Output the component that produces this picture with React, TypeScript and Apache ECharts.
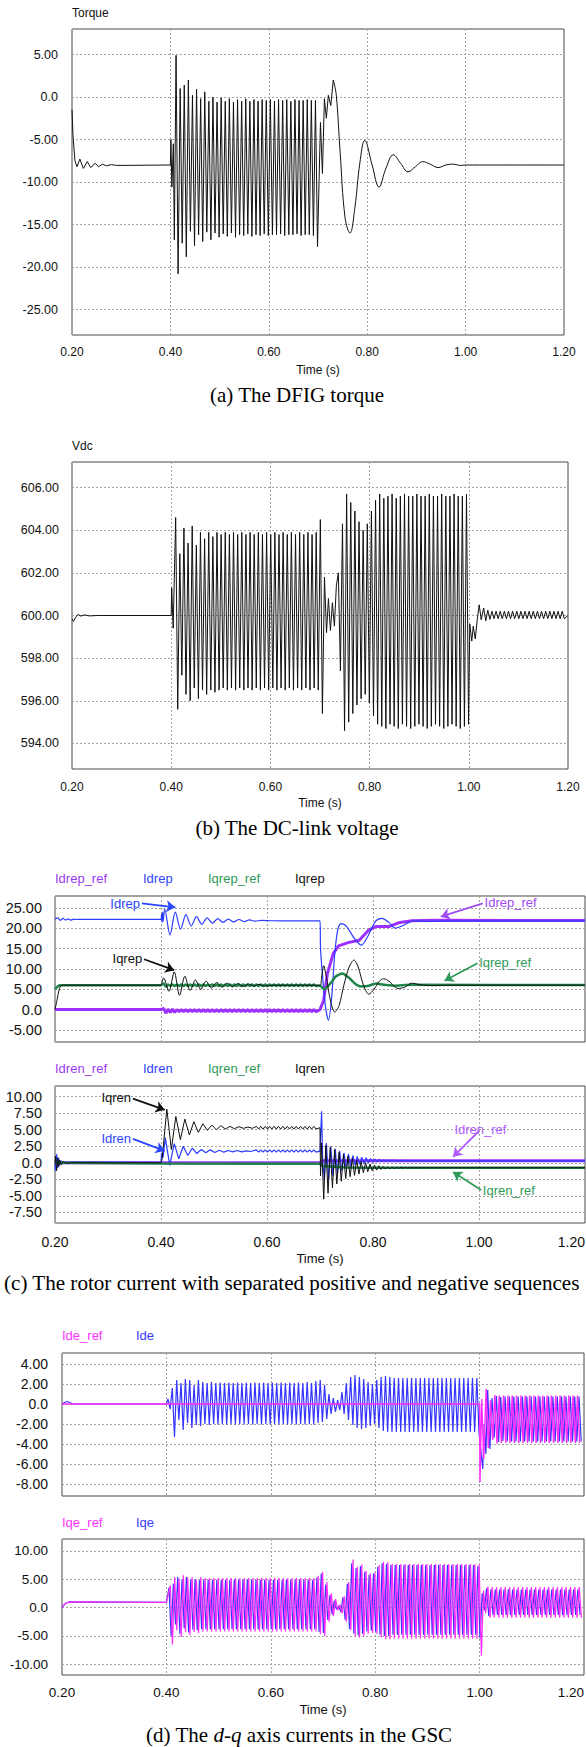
import React, { useEffect, useRef } from 'react';
import * as echarts from 'echarts';

type Pt = [number, number];
const rep = (v: number, n: number): number[] => Array.from({ length: n }, () => v);
const pairs = (t: number[], v: number[]): Pt[] => t.map((x, i) => [x, v[i]] as Pt);
const zig = (t0: number, period: number, highs: number[], lows: number[]): Pt[] => {
  const out: Pt[] = [];
  const n = Math.min(highs.length, lows.length);
  for (let i = 0; i < n; i++) {
    out.push([t0 + i * period, highs[i]]);
    out.push([t0 + i * period + period / 2, lows[i]]);
  }
  return out;
};

// ---------- common ----------
const P = 1 / 120; // oscillation period (s)
const X_MIN = 0.2;
const X_MAX = 1.2;
const X_STEP = 0.2;

// ---------- (a) torque ----------
const torqueTicks = [-25, -20, -15, -10, -5, 0, 5];
const torquePreT = [0.2, 0.202, 0.206, 0.21, 0.216, 0.223, 0.231, 0.238, 0.247, 0.254, 0.262, 0.27, 0.28, 0.29, 0.4, 0.401, 0.403, 0.406, 0.408];
const torquePreV = [-1.5, -4.5, -7.5, -8.2, -7.3, -8.4, -7.6, -8.3, -7.8, -8.2, -7.9, -8.1, -7.95, -8.05, -8.0, -5.0, -10.6, -5.5, -16.8];
const torqueOscT0 = 0.4115;
const torqueHighs = [4.9, 1.0, 1.4, 2.0, 0.2, 0.9, -0.2, 0.6, -0.5, 0.0, -0.6, -0.1, -0.5, -0.2, -0.6, -0.3, -0.5, -0.2, -0.5, -0.3, -0.5, -0.3, -0.4, -0.3, -0.5, -0.3, -0.4, -0.3, -0.5, -0.3, -0.4, -0.4, -0.3, -0.4, -0.4];
const torqueLows = [-20.8, -17.2, -18.8, -15.8, -17.5, -16.2, -17.0, -15.9, -16.8, -16.0, -16.5, -16.1, -16.4, -16.0, -16.5, -16.2, -16.3, -16.1, -16.4, -16.2, -16.3, -16.1, -16.3, -16.2, -16.2, -16.1, -16.3, -16.2, -16.2, -16.1, -16.3, -16.2, -16.2, -16.3, -17.6];
const torqueKickT = [0.705, 0.709, 0.713, 0.717, 0.721, 0.726, 0.731];
const torqueKickV = [-3.0, -9.0, -0.2, -2.5, 0.2, -1.0, 2.0];
const torqueTailT = [0.731, 0.737, 0.745, 0.755, 0.765, 0.775, 0.785, 0.795, 0.81, 0.824, 0.838, 0.853, 0.868, 0.883, 0.898, 0.913, 0.928, 0.944, 0.96, 0.974, 0.99, 1.0, 1.1, 1.2];
const torqueTailV = [2.0, 0.3, -6.5, -14.2, -16.0, -13.0, -7.8, -5.1, -8.0, -10.6, -8.4, -6.8, -7.8, -8.8, -8.2, -7.6, -7.9, -8.3, -8.0, -7.9, -8.05, -8.0, -8.0, -8.0];

// ---------- (b) Vdc ----------
const vdcTicks = [594, 596, 598, 600, 602, 604, 606];
const vdcPreT = [0.2, 0.203, 0.207, 0.212, 0.218, 0.225, 0.235, 0.25, 0.4, 0.401, 0.404];
const vdcPreV = [599.85, 599.72, 599.9, 600.05, 599.97, 600.03, 599.98, 600.0, 600.0, 601.3, 599.4];
const vdcOsc1T0 = 0.409;
const vdcOsc1Highs = [604.6, 602.9, 604.1, 603.4, 604.2, 603.3, 603.9, 603.6, 603.9, 603.7,
  603.9, 603.8, 603.9, 603.8, 603.9, 603.8, 603.9, 603.8, 603.9, 603.8, 603.9, 603.8,
  603.9, 603.8, 603.9, 603.8, 603.9, 603.8, 603.9, 603.8, 603.9, 603.8, 603.9, 603.8,
  603.9, 604.5, 601.8];
const vdcOsc1Lows = [595.6, 597.2, 596.3, 596.0, 596.6, 596.1, 596.5, 596.3, 596.5, 596.4,
  596.5, 596.6, 596.5, 596.6, 596.5, 596.6, 596.5, 596.6, 596.5, 596.6, 596.5, 596.6,
  596.5, 596.6, 596.5, 596.6, 596.5, 596.6, 596.5, 596.6, 596.5, 596.6, 596.5, 596.6,
  596.5, 595.4, 599.2];
const vdcMidT = [0.717, 0.721, 0.725, 0.729, 0.733];
const vdcMidV = [600.8, 599.3, 600.6, 599.5, 601.4];
const vdcOsc2T0 = 0.737;
const vdcOsc2Highs = [602.0, 604.3, 605.7, 605.3, 604.9, 604.4, 604.0, 604.3, 604.9, 605.4, 605.7, 605.5, 605.6, 605.7, 605.5, 605.6, 605.7, 605.6, 605.6, 605.7, 605.6, 605.6, 605.7, 605.6, 605.6, 605.7, 605.6, 605.6, 605.7, 605.6, 605.6, 605.7];
const vdcOsc2Lows = [597.4, 594.6, 595.0, 595.4, 595.8, 596.1, 596.3, 595.9, 595.3, 594.9, 594.8, 594.7, 594.9, 594.8, 594.7, 594.9, 594.8, 594.7, 594.8, 594.9, 594.8, 594.7, 594.8, 594.9, 594.8, 594.7, 594.8, 594.9, 594.8, 594.7, 594.8, 594.9];
const vdcPostT = [1.002, 1.006, 1.009, 1.013, 1.017, 1.021, 1.025];
const vdcPostV = [599.6, 598.8, 599.5, 598.9, 599.8, 600.5, 599.8];
const vdcRippleT0 = 1.03;
const vdcRippleHighs = [600.35, 600.25, ...rep(600.2, 18)];
const vdcRippleLows = [599.75, 599.82, ...rep(599.85, 18)];
const vdcEndT = [1.2];
const vdcEndV = [600.0];

// ---------- (c) rotor current, positive sequence ----------
const rpTicks = [-5, 0, 5, 10, 15, 20, 25];
const idrepPreT = [0.2, 0.205, 0.21, 0.215, 0.22, 0.225, 0.23, 0.235, 0.24, 0.25, 0.4, 0.401, 0.402, 0.403, 0.404];
const idrepPreV = [22.3, 22.6, 22.0, 22.5, 22.1, 22.35, 22.05, 22.3, 22.2, 22.25, 22.25, 23.5, 21.5, 24.0, 21.8];
const idrepOscT0 = 0.407;
const idrepOscPeriod = 0.02;
const idrepHighs = [24.8, 24.0, 23.4, 22.9, 22.6, 22.4, 22.3, 22.2, 22.1];
const idrepLows = [18.4, 19.8, 20.6, 21.0, 21.3, 21.5, 21.6, 21.7, 21.8];
const idrepPostT = [0.59, 0.61, 0.64, 0.67, 0.7, 0.701, 0.705, 0.71, 0.716, 0.722, 0.728, 0.734, 0.74, 0.75, 0.765, 0.778, 0.79, 0.805, 0.817, 0.83, 0.842, 0.858, 0.877, 0.9, 0.95, 1.2];
const idrepPostV = [22.0, 21.9, 21.85, 21.85, 21.85, 15, 8, 1, -2.6, 3, 14, 20, 21.2, 20.5, 17.5, 15.9, 18, 21.8, 22.5, 21.5, 20.1, 20.8, 21.9, 21.75, 21.85, 21.85];

const idrepRefPreT = [0.2, 0.4];
const idrepRefPreV = [0.0, 0.0];
const idrepRefRipT0 = 0.405;
const idrepRefRipHighs = [0.3, 0.1, 0.1, ...rep(0.0, 32)];
const idrepRefRipLows = [-0.9, -0.7, -0.7, ...rep(-0.5, 32)];
const idrepRefPostT = [0.7, 0.707, 0.714, 0.725, 0.735, 0.753, 0.774, 0.792, 0.806, 0.831, 0.848, 0.873, 0.92, 1.2];
const idrepRefPostV = [0.0, 2.3, 8.9, 13.8, 15.7, 16.5, 17.1, 19.6, 20.5, 20.5, 21.4, 21.9, 22.0, 21.95];

const iqrepRefPreT = [0.2, 0.205, 0.21, 0.4];
const iqrepRefPreV = [5.0, 5.7, 6.0, 6.0];
const iqrepRefRipT0 = 0.405;
const iqrepRefRipHighs = [6.4, ...rep(6.2, 34)];
const iqrepRefRipLows = [5.6, ...rep(5.8, 34)];
const iqrepRefPostT = [0.7, 0.708, 0.72, 0.73, 0.742, 0.755, 0.768, 0.778, 0.79, 0.806, 0.82, 0.84, 0.87, 1.2];
const iqrepRefPostV = [5.9, 5.0, 6.5, 8.2, 8.9, 7.8, 6.2, 5.7, 5.8, 6.4, 6.1, 5.9, 6.1, 6.05];

const iqrepPreT = [0.2, 0.204, 0.208, 0.212, 0.22, 0.4, 0.401];
const iqrepPreV = [0.0, 2.5, 5.0, 5.9, 6.0, 6.0, 6.3];
const iqrepOscT0 = 0.405;
const iqrepOscPeriod = 0.02;
const iqrepHighs = [7.8, 9.3, 8.2, 7.3, 7.0, 6.7, 6.5, 6.4, 6.3, 6.2];
const iqrepLows = [4.5, 3.5, 4.7, 5.0, 5.3, 5.5, 5.6, 5.7, 5.8, 5.8];
const iqrepPostT = [0.61, 0.65, 0.7, 0.703, 0.707, 0.712, 0.72, 0.728, 0.736, 0.745, 0.755, 0.764, 0.772, 0.782, 0.792, 0.802, 0.812, 0.82, 0.83, 0.847, 0.86, 0.873, 0.89, 0.91, 0.95, 1.2];
const iqrepPostV = [6.0, 6.0, 6.0, 8.0, 10.8, 8.0, 2.0, -0.6, 1.0, 6.0, 10.5, 12.2, 10.5, 6.0, 3.8, 5.0, 7.0, 7.6, 7.0, 5.2, 5.5, 6.5, 6.1, 5.9, 6.0, 6.0];

// annotations (data units): from, to
const rpNoteIdrep: [Pt, Pt] = [[0.364, 26.2], [0.427, 25.2]];
const rpNoteIqrep: [Pt, Pt] = [[0.368, 12.4], [0.425, 9.7]];
const rpNoteIdrepRef: [Pt, Pt] = [[1.007, 26.2], [0.928, 22.9]];
const rpNoteIqrepRef: [Pt, Pt] = [[0.997, 11.4], [0.935, 7.1]];

// ---------- (c) rotor current, negative sequence ----------
const rnTicks = [-7.5, -5, -2.5, 0, 2.5, 5, 7.5, 10];
const iqrenPreT = [0.2, 0.201, 0.203, 0.205, 0.207, 0.209, 0.212, 0.216, 0.22, 0.23, 0.4, 0.402];
const iqrenPreV = [0.0, 1.0, -1.2, 0.8, -0.6, 0.4, -0.3, 0.2, -0.1, 0.0, 0.0, 0.5];
const iqrenOscT0 = 0.411;
const iqrenOscPeriod = 0.017;
const iqrenHighs = [8.1, 7.0, 6.6, 6.2, 5.9, 5.7, 5.6, 5.5, 5.45, 5.4];
const iqrenLows = [2.0, 3.5, 4.2, 4.6, 4.9, 5.0, 5.1, 5.15, 5.2, 5.2];
const iqrenRipT0 = 0.58;
const iqrenRipHighs = rep(5.5, 14);
const iqrenRipLows = rep(5.1, 14);
const iqrenKickT = [0.7, 0.701, 0.703, 0.707];
const iqrenKickV = [5.3, -2.0, 3.0, -5.5];
const iqrenDecT0 = 0.711;
const iqrenDecHighs = [2.6, 2.3, 2.0, 1.6, 1.3, 1.0, 0.7, 0.4, 0.2, 0.0, -0.2, -0.35, -0.45, -0.55, -0.6, -0.65, -0.7, -0.7, -0.72, -0.74];
const iqrenDecLows = [-4.6, -3.8, -3.2, -2.8, -2.4, -2.1, -1.9, -1.7, -1.5, -1.35, -1.2, -1.1, -1.0, -0.95, -0.9, -0.85, -0.82, -0.8, -0.78, -0.76];
const iqrenEndT = [0.9, 1.2];
const iqrenEndV = [-0.75, -0.75];

const idrenPreT = [0.2, 0.201, 0.203, 0.205, 0.207, 0.209, 0.212, 0.216, 0.22, 0.4, 0.401, 0.404];
const idrenPreV = [0.0, -1.2, 1.3, -0.8, 0.7, -0.4, 0.3, -0.1, 0.1, 0.05, 1.5, 0.8];
const idrenOscT0 = 0.408;
const idrenOscPeriod = 0.017;
const idrenHighs = [3.8, 2.9, 2.5, 2.2, 2.0, 1.95, 1.9, 1.85, 1.85, 1.8];
const idrenLows = [-0.4, 0.6, 1.1, 1.4, 1.5, 1.55, 1.6, 1.65, 1.65, 1.7];
const idrenRipT0 = 0.58;
const idrenRipHighs = rep(1.95, 14);
const idrenRipLows = rep(1.6, 14);
const idrenKickT = [0.7, 0.703, 0.705, 0.708];
const idrenKickV = [1.75, 7.8, 0.5, -2.5];
const idrenDecT0 = 0.712;
const idrenDecHighs = [3.0, 2.5, 2.1, 1.8, 1.5, 1.3, 1.1, 0.95, 0.85, 0.75, 0.65, 0.55, 0.5, 0.45, 0.42, 0.4, 0.38, 0.36, 0.35, 0.34, 0.33, 0.32];
const idrenDecLows = [-2.6, -2.0, -1.6, -1.2, -0.9, -0.6, -0.4, -0.25, -0.1, 0.0, 0.08, 0.13, 0.17, 0.2, 0.22, 0.24, 0.26, 0.27, 0.28, 0.29, 0.3, 0.3];
const idrenEndT = [0.9, 1.2];
const idrenEndV = [0.3, 0.3];

const idrenRefT = [0.2, 0.7, 0.705, 1.2];
const idrenRefV = [0.0, 0.0, 0.3, 0.3];
const iqrenRefT = [0.2, 0.4, 0.7, 0.705, 0.75, 0.8, 1.2];
const iqrenRefV = [0.0, -0.1, -0.15, -0.5, -0.7, -0.75, -0.75];

const rnNoteIqren: [Pt, Pt] = [[0.347, 9.7], [0.407, 8.0]];
const rnNoteIdren: [Pt, Pt] = [[0.347, 3.6], [0.407, 1.8]];
const rnNoteIdrenRef: [Pt, Pt] = [[1.0, 4.8], [0.951, 0.9]];
const rnNoteIqrenRef: [Pt, Pt] = [[1.004, -4.1], [0.951, -1.4]];

// ---------- (d) GSC d-axis ----------
const gdTicks = [-8, -6, -4, -2, 0, 2, 4];
const idePreT = [0.2, 0.205, 0.21, 0.215, 0.22, 0.4];
const idePreV = [0.0, 0.15, 0.25, 0.15, 0.0, 0.0];
const ideOscT0 = 0.403;
const ideHighs = [
  0.5, 1.6, 2.4, 2.1, 2.5, 2.4, 1.9, 2.4, 2.2, 2.1, 2.2, 2.1,
  2.15, 2.1, 2.15, 2.1, 2.15, 2.1, 2.15, 2.1, 2.15, 2.1, 2.15, 2.1, 2.15, 2.1, 2.15, 2.1, 2.15, 2.1, 2.15, 2.1,
  2.2, 2.1, 2.3, 2.4,
  1.9, 1.0, 0.6, 0.4, 1.2,
  2.1, 2.7, 2.9, 2.7, 2.5, 2.2, 2.0,
  2.4, 2.7, 2.8, 2.7, ...rep(2.6, 20)];
const ideLows = [
  -0.5, -3.3, -1.6, -2.6, -1.9, -2.4, -2.1, -2.2, -2.0, -2.1,
  -2.0, -2.05, -2.0, -2.05, -2.0, -2.05, -2.0, -2.05, -2.0, -2.05, -2.0, -2.05,
  -2.0, -2.05, -2.0, -2.05, -2.0, -2.05, -2.0, -2.05, -2.0, -2.05, -2.0, -2.05,
  -1.9, -1.8,
  -1.5, -1.0, -0.8, -0.6, -1.0,
  -1.6, -2.1, -2.4, -2.5, -2.4, -2.2, -2.0,
  -2.4, -2.7, -2.8, ...rep(-2.8, 21)];
const ideKickT = [1.001, 1.006, 1.009, 1.012];
const ideKickV = [-4.0, -6.5, -2.0, -5.0];
const ideTailT0 = 1.0155;
const ideTailHighs = [1.4, 0.6, 0.8, 0.7, ...rep(0.75, 18)];
const ideTailLows = [-4.5, -3.4, -3.8, -3.7, ...rep(-3.75, 18)];

const ideRefPreT = [0.2, 1.0];
const ideRefPreV = [0.0, 0.0];
const ideRefKickT = [1.0008, 1.004, 1.008];
const ideRefKickV = [-7.8, 0.5, -5.5];
const ideRefTailT0 = 1.0125;
const ideRefTailHighs = [1.5, 0.4, 0.9, ...rep(0.85, 19)];
const ideRefTailLows = [-4.4, -3.6, -3.95, ...rep(-3.9, 19)];

// ---------- (d) GSC q-axis ----------
const gqTicks = [-10, -5, 0, 5, 10];
const iqePreT = [0.2, 0.205, 0.21, 0.215, 0.4];
const iqePreV = [0.0, 0.6, 0.9, 1.0, 0.9];
const iqeOscT0 = 0.405;
const iqeHighs = [
  3.5, 4.2, 5.4, 5.0, 5.4, 4.9, 5.0, 4.8, ...rep(4.9, 26), 5.3, 6.0,
  4.0, 2.2, 1.2, 0.3, 1.8,
  4.2, 7.8, 7.0, 7.3, 6.3, 5.8, 6.0, 7.2, 7.8, 7.7, ...rep(7.5, 20),
  7.3,
  2.5, 3.4, ...rep(3.2, 21)];
const iqeLows = [
  -5.0, -3.0, -4.6, -3.7, -4.4, -3.9, -4.0, -3.8, ...rep(-3.8, 26), -4.3, -4.5,
  -2.2, -1.2, -0.3, -0.8, -2.2,
  -3.8, -4.6, -4.9, -4.6, -4.2, -4.1, -4.2, -4.8, -5.0, -5.0, ...rep(-4.8, 20),
  -5.5,
  -0.5, -1.5, ...rep(-1.3, 21)];
const iqeRefOscT0 = 0.4075;
const iqeRefHighs = [
  3.9, 5.4, 5.1, 5.7, 5.3, 5.4, 4.9, 5.4, ...rep(5.2, 26), 5.6, 6.3,
  4.5, 2.5, 1.5, 0.5, 2.0,
  4.5, 8.5, 7.2, 7.6, 6.5, 6.0, 6.2, 7.5, 8.1, 8.0, ...rep(7.7, 20),
  7.6,
  3.0, 3.7, ...rep(3.6, 21)];
const iqeRefLows = [
  -6.5, -4.0, -5.2, -4.3, -4.9, -4.3, -4.5, -4.2, ...rep(-4.2, 26), -4.7, -5.0,
  -2.5, -1.5, -0.5, -1.0, -2.5,
  -4.0, -5.0, -5.3, -5.0, -4.6, -4.5, -4.6, -5.3, -5.6, -5.6, ...rep(-5.5, 20),
  -8.5,
  -1.0, -1.8, ...rep(-1.8, 21)];

// ---------- styling ----------
const FONT = "'Liberation Sans', Arial, sans-serif";
const SERIF = "'Liberation Serif', 'Times New Roman', serif";
const C_PURPLE = '#9b30ff';
const C_BLUE = '#2b3cff';
const C_GREEN = '#1e8449';
const C_BLACK = '#111111';
const C_MAGENTA = '#ff2bff';

const fmtY = (v: number) => (Math.abs(v) < 1e-9 ? '0.0' : v.toFixed(2));

const gridDefs = [
  { left: 72, top: 29, width: 492, height: 306 },
  { left: 72, top: 462, width: 496, height: 307 },
  { left: 55, top: 896, width: 530, height: 146 },
  { left: 55, top: 1086, width: 530, height: 137 },
  { left: 62, top: 1353, width: 522, height: 143 },
  { left: 62, top: 1539, width: 522, height: 136 },
];
const yDefs = [
  { min: -28, max: 8, ticks: torqueTicks, fs: 12.5, margin: 14 },
  { min: 592.8, max: 607.2, ticks: vdcTicks, fs: 12.5, margin: 13 },
  { min: -8, max: 28, ticks: rpTicks, fs: 14.5, margin: 13 },
  { min: -9.1, max: 11.6, ticks: rnTicks, fs: 14.5, margin: 13 },
  { min: -9.2, max: 5.1, ticks: gdTicks, fs: 14, margin: 14 },
  { min: -11.9, max: 12.1, ticks: gqTicks, fs: 13.5, margin: 14 },
];
const xDefs = [
  { labels: true, fs: 12, margin: 11, nameFs: 12, nameGap: 29, alignMax: 'center' },
  { labels: true, fs: 12, margin: 12, nameFs: 12, nameGap: 28, alignMax: 'center' },
  { labels: false, fs: 14, margin: 12, nameFs: 13, nameGap: 29, alignMax: 'right' },
  { labels: true, fs: 14, margin: 12, nameFs: 13, nameGap: 29, alignMax: 'right' },
  { labels: false, fs: 13.5, margin: 10, nameFs: 13, nameGap: 28, alignMax: 'right' },
  { labels: true, fs: 13.5, margin: 10, nameFs: 13, nameGap: 28, alignMax: 'right' },
];

const splitStyle = { color: '#a3a3a3', width: 1, type: [2, 2] as number[] };

function lineSeries(idx: number, data: Pt[], color: string, width: number, smooth: number | boolean = false, extra: any = {}) {
  return {
    type: 'line',
    xAxisIndex: idx,
    yAxisIndex: idx,
    data,
    showSymbol: false,
    symbol: 'none',
    smooth,
    silent: true,
    animation: false,
    lineStyle: { color, width },
    ...extra,
  };
}

function arrow(label: string, color: string, seg: [Pt, Pt]) {
  return [
    {
      coord: seg[0],
      symbol: 'none',
      lineStyle: { color, width: 1.8, type: 'solid' },
      label: { show: true, position: 'start', formatter: label, color, fontSize: 13, fontFamily: FONT, distance: 2 },
    },
    { coord: seg[1], symbol: 'arrow' },
  ];
}

function txt(text: string, x: number, y: number, color: string, size: number, align = 'left', family = FONT) {
  return {
    type: 'text',
    x,
    y,
    silent: true,
    style: { text, fill: color, fontSize: size, fontFamily: family, align, verticalAlign: 'middle' },
  };
}

export default function App() {
  const ref = useRef<HTMLDivElement>(null);

  useEffect(() => {
    document.body.style.margin = '0';
    if (!ref.current) return;
    const chart = echarts.init(ref.current, null, { renderer: 'svg' });

    const torqueMain: Pt[] = [
      ...pairs(torquePreT, torquePreV),
      ...zig(torqueOscT0, P, torqueHighs, torqueLows),
      ...pairs(torqueKickT, torqueKickV),
    ];
    const torqueTail = pairs(torqueTailT, torqueTailV);

    const vdc: Pt[] = [
      ...pairs(vdcPreT, vdcPreV),
      ...zig(vdcOsc1T0, P, vdcOsc1Highs, vdcOsc1Lows),
      ...pairs(vdcMidT, vdcMidV),
      ...zig(vdcOsc2T0, P, vdcOsc2Highs, vdcOsc2Lows),
      ...pairs(vdcPostT, vdcPostV),
      ...zig(vdcRippleT0, P, vdcRippleHighs, vdcRippleLows),
      ...pairs(vdcEndT, vdcEndV),
    ];

    const idrep: Pt[] = [
      ...pairs(idrepPreT, idrepPreV),
      ...zig(idrepOscT0, idrepOscPeriod, idrepHighs, idrepLows),
      ...pairs(idrepPostT, idrepPostV),
    ];
    const idrepRef: Pt[] = [
      ...pairs(idrepRefPreT, idrepRefPreV),
      ...zig(idrepRefRipT0, P, idrepRefRipHighs, idrepRefRipLows),
      ...pairs(idrepRefPostT, idrepRefPostV),
    ];
    const iqrepRef: Pt[] = [
      ...pairs(iqrepRefPreT, iqrepRefPreV),
      ...zig(iqrepRefRipT0, P, iqrepRefRipHighs, iqrepRefRipLows),
      ...pairs(iqrepRefPostT, iqrepRefPostV),
    ];
    const iqrep: Pt[] = [
      ...pairs(iqrepPreT, iqrepPreV),
      ...zig(iqrepOscT0, iqrepOscPeriod, iqrepHighs, iqrepLows),
      ...pairs(iqrepPostT, iqrepPostV),
    ];

    const iqren: Pt[] = [
      ...pairs(iqrenPreT, iqrenPreV),
      ...zig(iqrenOscT0, iqrenOscPeriod, iqrenHighs, iqrenLows),
      ...zig(iqrenRipT0, P, iqrenRipHighs, iqrenRipLows),
      ...pairs(iqrenKickT, iqrenKickV),
      ...zig(iqrenDecT0, P, iqrenDecHighs, iqrenDecLows),
      ...pairs(iqrenEndT, iqrenEndV),
    ];
    const idren: Pt[] = [
      ...pairs(idrenPreT, idrenPreV),
      ...zig(idrenOscT0, idrenOscPeriod, idrenHighs, idrenLows),
      ...zig(idrenRipT0, P, idrenRipHighs, idrenRipLows),
      ...pairs(idrenKickT, idrenKickV),
      ...zig(idrenDecT0, P, idrenDecHighs, idrenDecLows),
      ...pairs(idrenEndT, idrenEndV),
    ];
    const idrenRef = pairs(idrenRefT, idrenRefV);
    const iqrenRef = pairs(iqrenRefT, iqrenRefV);

    const ide: Pt[] = [
      ...pairs(idePreT, idePreV),
      ...zig(ideOscT0, P, ideHighs, ideLows),
      ...pairs(ideKickT, ideKickV),
      ...zig(ideTailT0, P, ideTailHighs, ideTailLows),
    ];
    const ideRef: Pt[] = [
      ...pairs(ideRefPreT, ideRefPreV),
      ...pairs(ideRefKickT, ideRefKickV),
      ...zig(ideRefTailT0, P, ideRefTailHighs, ideRefTailLows),
    ];
    const iqe: Pt[] = [...pairs(iqePreT, iqePreV), ...zig(iqeOscT0, P, iqeHighs, iqeLows)];
    const iqeRef: Pt[] = [...pairs(iqePreT, iqePreV), ...zig(iqeRefOscT0, P, iqeRefHighs, iqeRefLows)];

    const option: any = {
      animation: false,
      backgroundColor: '#ffffff',
      grid: gridDefs.map((g) => ({
        ...g,
        show: true,
        borderColor: '#4a4a4a',
        borderWidth: 1,
        backgroundColor: 'transparent',
        containLabel: false,
        outerBoundsMode: 'none',
      })),
      xAxis: xDefs.map((d, i) => ({
        type: 'value',
        gridIndex: i,
        min: X_MIN,
        max: X_MAX,
        interval: X_STEP,
        axisLine: { show: false },
        axisTick: { show: false },
        axisLabel: {
          show: d.labels,
          fontSize: d.fs,
          fontFamily: FONT,
          color: '#111',
          margin: d.margin,
          hideOverlap: false,
          alignMaxLabel: d.alignMax,
          formatter: (v: number) => v.toFixed(2),
        },
        splitLine: { show: true, lineStyle: splitStyle },
        name: d.labels ? 'Time (s)' : '',
        nameLocation: 'middle',
        nameGap: d.nameGap,
        nameTextStyle: { fontSize: d.nameFs, fontFamily: FONT, color: '#111' },
      })),
      yAxis: yDefs.map((d, i) => ({
        type: 'value',
        gridIndex: i,
        min: d.min,
        max: d.max,
        axisLine: { show: false },
        axisTick: { show: false, customValues: d.ticks },
        axisLabel: {
          customValues: d.ticks,
          fontSize: d.fs,
          fontFamily: FONT,
          color: '#111',
          margin: d.margin,
          formatter: fmtY,
        },
        splitLine: { show: true, lineStyle: splitStyle },
      })),
      series: [
        lineSeries(0, torqueMain, C_BLACK, 1),
        lineSeries(0, torqueTail, C_BLACK, 1, 0.4),
        lineSeries(1, vdc, C_BLACK, 1),
        lineSeries(2, idrepRef, C_PURPLE, 3),
        lineSeries(2, idrep, C_BLUE, 1.2, 0.3),
        lineSeries(2, iqrepRef, C_GREEN, 2.5, 0.2),
        lineSeries(2, iqrep, C_BLACK, 1, 0.3, {
          markLine: {
            silent: true,
            animation: false,
            symbol: ['none', 'arrow'],
            symbolSize: 9,
            data: [
              arrow('Idrep', '#2b46ff', rpNoteIdrep),
              arrow('Iqrep', '#111111', rpNoteIqrep),
              arrow('Idrep_ref', '#a14cf2', rpNoteIdrepRef),
              arrow('Iqrep_ref', '#2f9a5a', rpNoteIqrepRef),
            ],
          },
        }),
        lineSeries(3, idrenRef, C_PURPLE, 3),
        lineSeries(3, idren, C_BLUE, 1.2),
        lineSeries(3, iqrenRef, C_GREEN, 2.5),
        lineSeries(3, iqren, C_BLACK, 1, false, {
          markLine: {
            silent: true,
            animation: false,
            symbol: ['none', 'arrow'],
            symbolSize: 9,
            data: [
              arrow('Iqren', '#111111', rnNoteIqren),
              arrow('Idren', '#2b46ff', rnNoteIdren),
              arrow('Idren_ref', '#b05cff', rnNoteIdrenRef),
              arrow('Iqren_ref', '#2f9a5a', rnNoteIqrenRef),
            ],
          },
        }),
        lineSeries(4, ide, '#3535ff', 1.2),
        lineSeries(4, ideRef, C_MAGENTA, 1.4),
        lineSeries(5, iqe, '#3535ff', 1.2),
        lineSeries(5, iqeRef, C_MAGENTA, 1.2),
      ],
      graphic: {
        elements: [
          txt('Torque', 72, 13, '#111', 12),
          txt('Vdc', 72, 446, '#111', 12),
          txt('(a) The DFIG torque', 297, 395, '#000', 21, 'center', SERIF),
          txt('(b) The DC-link voltage', 297, 828, '#000', 21, 'center', SERIF),
          txt('(c) The rotor current with separated positive and negative sequences', 4, 1283, '#000', 21.1, 'left', SERIF),
          {
            type: 'text',
            x: 299,
            y: 1735,
            silent: true,
            style: {
              text: '(d) The {i|d}-{i|q} axis currents in the GSC',
              fill: '#000',
              fontSize: 21,
              fontFamily: SERIF,
              align: 'center',
              verticalAlign: 'middle',
              rich: { i: { fontStyle: 'italic', fontSize: 21, fontFamily: SERIF, fill: '#000' } },
            },
          },
          txt('Idrep_ref', 55, 878, '#9b3bf0', 13),
          txt('Idrep', 143, 878, '#3045ff', 13),
          txt('Iqrep_ref', 208, 878, '#2f9a5a', 13),
          txt('Iqrep', 295, 878, '#111', 13),
          txt('Idren_ref', 55, 1068, '#9b3bf0', 13),
          txt('Idren', 143, 1068, '#3045ff', 13),
          txt('Iqren_ref', 208, 1068, '#2f9a5a', 13),
          txt('Iqren', 295, 1068, '#111', 13),
          txt('Ide_ref', 62, 1335, '#ff33ff', 13),
          txt('Ide', 136, 1335, '#3a3aff', 13),
          txt('Iqe_ref', 62, 1522, '#ff33ff', 13),
          txt('Iqe', 136, 1522, '#3a3aff', 13),
        ],
      },
    };

    chart.setOption(option);
    return () => chart.dispose();
  }, []);

  return (
    <div
      ref={ref}
      style={{ position: 'absolute', left: 0, top: 0, width: 586, height: 1747, background: '#fff' }}
    />
  );
}
